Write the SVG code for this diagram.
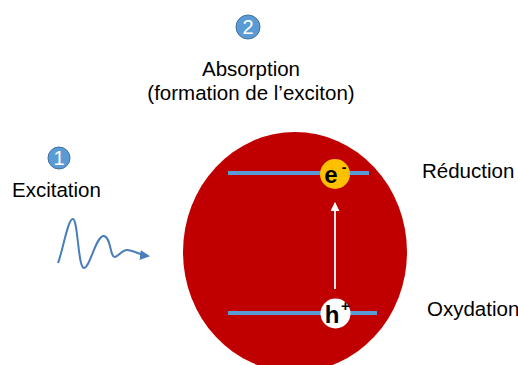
<svg xmlns="http://www.w3.org/2000/svg" width="518" height="365" viewBox="0 0 518 365">
<style>
.t{font-family:"Liberation Sans",Arial,sans-serif;font-size:20.5px;fill:#000}
.num{font-family:"Liberation Sans",Arial,sans-serif;font-size:20px;fill:#fff;text-anchor:middle}
.badge{fill:#5B9BD5;stroke:#41719C;stroke-width:1}
.level{stroke:#5B9BD5;stroke-width:4}
.q{font-family:"Liberation Sans",Arial,sans-serif;font-weight:bold;font-size:24px;fill:#000}
</style>
<defs>
<marker id="wa" viewBox="0 0 10 10" refX="8" refY="5" markerWidth="5" markerHeight="5" orient="auto"><path d="M0,0 L10,5 L0,10 z" fill="#4A7EBB"/></marker>
<marker id="wh" viewBox="0 0 10 10" refX="9" refY="5" markerWidth="5" markerHeight="5" orient="auto"><path d="M0,0 L10,5 L0,10 z" fill="#fff"/></marker>
</defs>
<rect width="518" height="365" fill="#fff"/>
<g id="particle">
<ellipse cx="295" cy="252" rx="112" ry="120" fill="#C00000"/>
</g>
<g id="badge2"><circle class="badge" cx="248" cy="27" r="12"/><text class="num" x="248" y="34">2</text></g>
<g id="absorption"><text class="t" x="251" y="76" text-anchor="middle">Absorption</text><text class="t" x="251" y="100" text-anchor="middle">(formation de l’exciton)</text></g>
<g id="badge1"><circle class="badge" cx="59" cy="158" r="11"/><text class="num" x="59" y="165">1</text></g>
<g id="excitation"><text class="t" x="12" y="197">Excitation</text></g>
<g id="reduction"><text class="t" x="422" y="178">Réduction</text></g>
<g id="oxydation"><text class="t" x="427" y="316">Oxydation</text></g>
<g id="connectors">
<path d="M58,263 C63,250 68,218 73,219 C78,220 78,268 84,268 C90,268 96,235 104,236 C111,237 110,258 115,257 C119,256 122,250 127,250 C133,250 140,255 148,256" fill="none" stroke="#4A7EBB" stroke-width="2" marker-end="url(#wa)"/>
<line class="level" x1="228" y1="173" x2="369" y2="173"/>
<line class="level" x1="228" y1="313" x2="377" y2="313"/>
<line x1="335" y1="289" x2="335" y2="203" stroke="#fff" stroke-width="1.8" marker-end="url(#wh)"/>
</g>
<g id="electron"><circle cx="335" cy="174" r="15" fill="#FFC000"/><text class="q" x="331" y="183" text-anchor="middle">e</text><text class="q" x="344" y="172" style="font-size:14px" text-anchor="middle">-</text></g>
<g id="hole"><circle cx="335.5" cy="313.5" r="15" fill="#fff"/><text class="q" x="332" y="323" text-anchor="middle">h</text><text class="q" x="345.5" y="311" style="font-size:15px" text-anchor="middle">+</text></g>
</svg>
